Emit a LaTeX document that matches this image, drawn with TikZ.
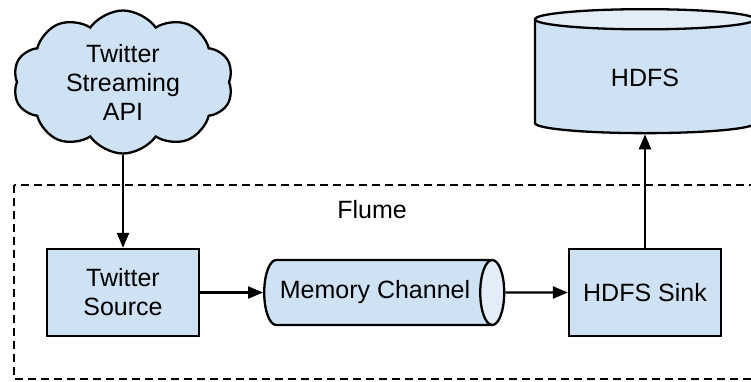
\documentclass[tikz,border=0pt]{standalone}
\usepackage{fontspec}
\setmainfont{Liberation Sans}
\usetikzlibrary{
    arrows.meta,
    shapes.geometric,
    shapes.symbols
}
\definecolor{boxblue}{HTML}{CFE2F3}
\definecolor{capblue}{HTML}{E2EDF8}
\tikzset {
    block/.style = {
        draw, line width = 2.3pt, fill = boxblue,
        minimum width = 152pt, minimum height = 87pt,
        align = center
    },
    pipe/.style = {
        cylinder, draw, line width = 2.3pt,
        cylinder uses custom fill,
        cylinder body fill = boxblue,
        cylinder end fill = capblue,
        aspect = 0.8,
        minimum width = 65pt, minimum height = 240pt
    },
    store/.style = {
        pipe, shape border rotate = 90, aspect = 0.27,
        minimum width = 220pt, minimum height = 124pt
    },
    api/.style = {
        cloud, cloud puffs = 10, cloud puff arc = 110, aspect = 1.5,
        draw, line width = 2.3pt, fill = boxblue,
        inner xsep = -6pt, inner ysep = -14pt,
        minimum width = 220pt, minimum height = 143pt,
        align = center
    },
    flow/.style = {line width = 2.2pt, -{Triangle[length = 15pt, width = 12pt]}},
    group/.style = {line width = 2.3pt, dash pattern = on 8pt off 5pt}
}

\begin{document}
\begin{tikzpicture}[x = 1pt, y = -1pt, font = \fontsize{25}{29}\selectfont]
    \useasboundingbox (0, 0) rectangle (751, 381);
    % flume agent
    \draw[group] (14, 185) rectangle (770, 379);
    \node (flume) at (372, 210) {Flume};
    \node (api) [api] at (123, 82) {Twitter\\Streaming\\API};
    \node (src) [block] at (123, 292.5) {Twitter\\Source};
    \node (chan) [pipe] at (375, 292.5) {Memory Channel};
    \node (sink) [block] at (645, 292.5) {HDFS Sink};
    \node (hdfs) [store] at (645, 78) {HDFS};
    \draw[flow] (api.south) -- (src);
    \draw[flow] (src) -- (chan);
    \draw[flow] (chan) -- (sink);
    \draw[flow] (sink) -- (hdfs.south);
\end{tikzpicture}
\end{document}
